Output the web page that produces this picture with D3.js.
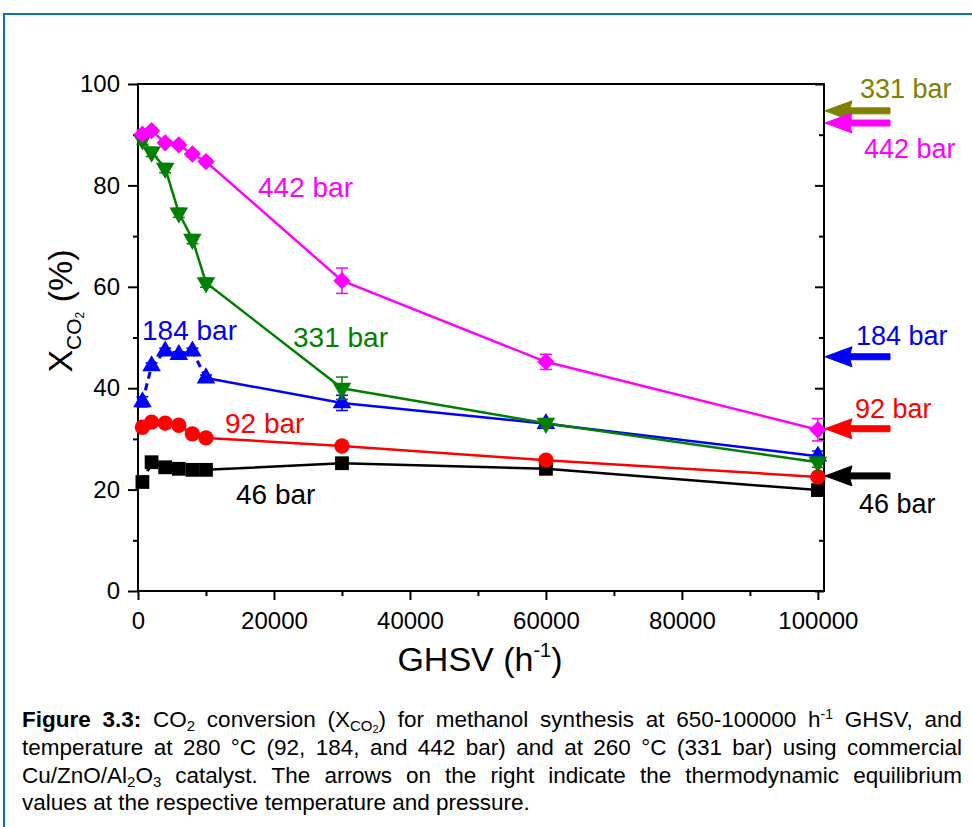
<!DOCTYPE html>
<html>
<head>
<meta charset="utf-8">
<script src="https://cdn.jsdelivr.net/npm/d3@7"></script>
<style>
  body { margin: 0; background: #fff; }
  svg { display: block; }
  text { font-family: "Liberation Sans", Arial, Helvetica, sans-serif; }
</style>
</head>
<body>
<svg id="chart" width="972" height="827"></svg>
<script>
// GHSV set points (h^-1)
const ghsv = [650, 2000, 4000, 6000, 8000, 10000, 30000, 60000, 100000];

// CO2 conversion (%) per pressure
const conv46  = [21.5, 25.4, 24.4, 24.1, 23.9, 23.9, 25.2, 24.1, 19.9];
const conv92  = [32.3, 33.3, 33.1, 32.7, 31.0, 30.2, 28.6, 25.8, 22.5];
const conv184 = [37.3, 44.4, 47.3, 46.6, 47.3, 42.0, 37.1, 33.0, 26.6];
const conv331 = [89.0, 86.6, 83.4, 74.6, 69.4, 60.8, 40.0, 33.1, 25.4];
const conv442 = [90.1, 90.8, 88.4, 88.0, 86.2, 84.7, 61.2, 45.2, 31.8];

// standard deviations (%)
const err46  = [0.4, 0.4, 0.3, 0.3, 0.3, 0.3, 0.5, 0.5, 0.5];
const err92  = [0.5, 0.4, 0.4, 0.4, 0.4, 0.4, 0.6, 0.6, 0.6];
const err184 = [1.0, 0.6, 0.6, 0.6, 0.6, 0.6, 1.5, 0.8, 1.0];
const err331 = [0.9, 0.9, 0.9, 0.9, 0.9, 0.9, 2.2, 0.8, 1.0];
const err442 = [0.9, 0.5, 0.5, 0.5, 0.5, 0.5, 2.5, 1.5, 2.2];

// thermodynamic equilibrium conversions (%)
const eqLabels = ["331 bar", "442 bar", "184 bar", "92 bar", "46 bar"];
const eqValues = [94.7, 92.3, 46.2, 32.0, 22.7];

const yTicks = [0, 20, 40, 60, 80, 100];
const xTicks = [0, 20000, 40000, 60000, 80000, 100000];

const svg = d3.select("#chart");

// page frame
svg.append("rect")
  .attr("x", 4).attr("y", 14).attr("width", 990).attr("height", 840)
  .attr("fill", "none").attr("stroke", "#0a70c2").attr("stroke-width", 2);

const x = d3.scaleLinear().domain([0, 100900]).range([138, 824]);
const y = d3.scaleLinear().domain([0, 100]).range([591, 84]);

const series = [
  { name: "46 bar",  vals: conv46,  err: err46,  color: "#000000", shape: "square",  dashedStart: true,
    label: { x: 236, y: 504 } },
  { name: "92 bar",  vals: conv92,  err: err92,  color: "#ff0000", shape: "circle",  dashedStart: false,
    label: { x: 225, y: 433 } },
  { name: "184 bar", vals: conv184, err: err184, color: "#0000ff", shape: "up",      dashedStart: true,
    label: { x: 142, y: 340 } },
  { name: "331 bar", vals: conv331, err: err331, color: "#008000", shape: "down",    dashedStart: false,
    label: { x: 293, y: 347 } },
  { name: "442 bar", vals: conv442, err: err442, color: "#ff00ff", shape: "diamond", dashedStart: false,
    label: { x: 258, y: 197 } }
];

// axes
const axisG = svg.append("g");
const style = g => {
  g.selectAll("path, line").attr("stroke", "#000").attr("stroke-width", 2);
  g.selectAll("text").attr("fill", "#000").attr("font-size", 24)
    .attr("font-family", '"Liberation Sans", Arial, sans-serif');
};

axisG.append("g").attr("transform", "translate(0,591)")
  .call(d3.axisBottom(x).tickValues(d3.range(10000, 100001, 20000)).tickSize(5).tickSizeOuter(0).tickFormat(""))
  .call(style).call(g => g.select(".domain").remove());
axisG.append("g").attr("transform", "translate(0,591)")
  .call(d3.axisBottom(x).tickValues(xTicks).tickSize(9).tickPadding(12).tickSizeOuter(0).tickFormat(d3.format("d")))
  .call(style).call(g => g.select(".domain").remove());

axisG.append("g").attr("transform", "translate(138,0)")
  .call(d3.axisLeft(y).tickValues(d3.range(10, 100, 20)).tickSize(5).tickSizeOuter(0).tickFormat(""))
  .call(style).call(g => g.select(".domain").remove());
axisG.append("g").attr("transform", "translate(138,0)")
  .call(d3.axisLeft(y).tickValues(yTicks).tickSize(10).tickPadding(8).tickSizeOuter(0))
  .call(style).call(g => g.select(".domain").remove());

// right mirror axis, ticks inward
axisG.append("g").attr("transform", "translate(824,0)")
  .call(d3.axisLeft(y).tickValues(d3.range(10, 100, 20)).tickSize(5).tickSizeOuter(0).tickFormat(""))
  .call(style).call(g => g.select(".domain").remove());
axisG.append("g").attr("transform", "translate(824,0)")
  .call(d3.axisLeft(y).tickValues(yTicks).tickSize(9).tickSizeOuter(0).tickFormat(""))
  .call(style).call(g => g.select(".domain").remove());

// frame lines
svg.append("rect")
  .attr("x", x.range()[0]).attr("y", y.range()[1])
  .attr("width", x.range()[1] - x.range()[0]).attr("height", y.range()[0] - y.range()[1])
  .attr("fill", "none").attr("stroke", "#000").attr("stroke-width", 2);

// axis titles
const xt = svg.append("text").attr("x", 480).attr("y", 671).attr("text-anchor", "middle")
  .attr("font-size", 34).attr("fill", "#000");
xt.append("tspan").text("GHSV (h");
xt.append("tspan").attr("font-size", 20).attr("dy", -14).text("-1");
xt.append("tspan").attr("dy", 14).text(")");

const yt = svg.append("text").attr("transform", "translate(72,311) rotate(-90)")
  .attr("text-anchor", "middle").attr("font-size", 34).attr("fill", "#000");
yt.append("tspan").text("X");
yt.append("tspan").attr("font-size", 21).attr("dy", 9).text("CO");
yt.append("tspan").attr("font-size", 12).attr("dy", 3).text("2");
yt.append("tspan").attr("dy", -12).text(" (%)");

// series
const line = d3.line().x(d => x(d.g)).y(d => y(d.v));
const plotG = svg.append("g");

const symbolFor = shape => {
  if (shape === "square") return d3.symbol(d3.symbolSquare, 190)();
  if (shape === "circle") return d3.symbol(d3.symbolCircle, 185)();
  if (shape === "diamond") return d3.symbol(d3.symbolSquare, 150)();
  return d3.symbol(d3.symbolTriangle, 150)();
};
const rotFor = shape => shape === "diamond" ? 45 : shape === "down" ? 180 : 0;

series.forEach(s => {
  const pts = ghsv.map((g, i) => ({ g, v: s.vals[i], e: s.err[i] }));
  const g = plotG.append("g");
  if (s.dashedStart) {
    g.append("path").attr("d", line(pts.slice(0, 6)))
      .attr("fill", "none").attr("stroke", s.color).attr("stroke-width", 3)
      .attr("stroke-dasharray", "7,5");
    g.append("path").attr("d", line(pts.slice(5)))
      .attr("fill", "none").attr("stroke", s.color).attr("stroke-width", 2.5);
  } else {
    g.append("path").attr("d", line(pts))
      .attr("fill", "none").attr("stroke", s.color).attr("stroke-width", 2.5);
  }
  // error bars
  const eb = g.selectAll(".eb").data(pts).enter().append("g");
  eb.append("line").attr("x1", d => x(d.g)).attr("x2", d => x(d.g))
    .attr("y1", d => y(d.v - d.e)).attr("y2", d => y(d.v + d.e))
    .attr("stroke", s.color).attr("stroke-width", 1.5);
  [-1, 1].forEach(sign => {
    eb.append("line").attr("x1", d => x(d.g) - 6).attr("x2", d => x(d.g) + 6)
      .attr("y1", d => y(d.v + sign * d.e)).attr("y2", d => y(d.v + sign * d.e))
      .attr("stroke", s.color).attr("stroke-width", 1.5);
  });
  g.selectAll(".m").data(pts).enter().append("path")
    .attr("d", symbolFor(s.shape))
    .attr("transform", d => `translate(${x(d.g)},${y(d.v)}) rotate(${rotFor(s.shape)})`)
    .attr("fill", s.color);
  svg.append("text").attr("x", s.label.x).attr("y", s.label.y)
    .attr("font-size", 28).attr("fill", s.color).text(s.name);
});

// equilibrium arrows on the right
const eqColors = { "331 bar": "#808000", "442 bar": "#ff00ff", "184 bar": "#0000ff", "92 bar": "#ff0000", "46 bar": "#000000" };
const eqLabelPos = { "331 bar": [860, 98], "442 bar": [864, 158], "184 bar": [856, 345], "92 bar": [855, 418], "46 bar": [859, 513] };
const tipX = 825, headX = 852, tailX = 890;
eqLabels.forEach((lab, i) => {
  const yv = y(eqValues[i]);
  const c = eqColors[lab];
  svg.append("path")
    .attr("d", `M${tipX},${yv} L${headX},${yv - 10} L${headX - 2},${yv - 3} L${tailX},${yv - 3} L${tailX},${yv + 3} L${headX - 2},${yv + 3} L${headX},${yv + 10} Z`)
    .attr("fill", c).attr("stroke", c).attr("stroke-width", 1).attr("stroke-linejoin", "round");
  svg.append("text").attr("x", eqLabelPos[lab][0]).attr("y", eqLabelPos[lab][1])
    .attr("font-size", 27).attr("fill", c).text(lab);
});

// caption
const cap = svg.append("g").attr("fill", "#000");
const capX = 22, capRight = 962, capSize = 22.5;
const lines = [
  { y: 727, justify: true, parts: [
    { t: "Figure 3.3:", b: true }, { t: " CO" }, { t: "2", sub: true }, { t: " conversion (X" },
    { t: "CO", sub: true }, { t: "2", subsub: true }, { t: ") for methanol synthesis at 650-100000 h" },
    { t: "-1", sup: true }, { t: " GHSV, and" }] },
  { y: 755, justify: true, parts: [
    { t: "temperature at 280 °C (92, 184, and 442 bar) and at 260 °C (331 bar) using commercial" }] },
  { y: 783, justify: true, parts: [
    { t: "Cu/ZnO/Al" }, { t: "2", sub: true }, { t: "O" }, { t: "3", sub: true },
    { t: " catalyst. The arrows on the right indicate the thermodynamic equilibrium" }] },
  { y: 810, justify: false, parts: [
    { t: "values at the respective temperature and pressure." }] }
];
lines.forEach(L => {
  const t = cap.append("text").attr("x", capX).attr("y", L.y).attr("xml:space", "preserve");
  let shift = 0;
  L.parts.forEach(p => {
    const sp = t.append("tspan").text(p.t);
    if (p.b) sp.attr("font-weight", "bold");
    let target = 0, size = capSize;
    if (p.sub) { target = 4; size = 15; }
    if (p.subsub) { target = 6; size = 11; }
    if (p.sup) { target = -8; size = 14; }
    sp.attr("font-size", size);
    if (target !== shift) { sp.attr("dy", target - shift); shift = target; }
  });
  if (L.justify) {
    const w = t.node().getComputedTextLength();
    const spaces = (t.text().match(/ /g) || []).length;
    if (spaces > 0) t.attr("word-spacing", (capRight - capX - w) / spaces);
  }
});
</script>
</body>
</html>
